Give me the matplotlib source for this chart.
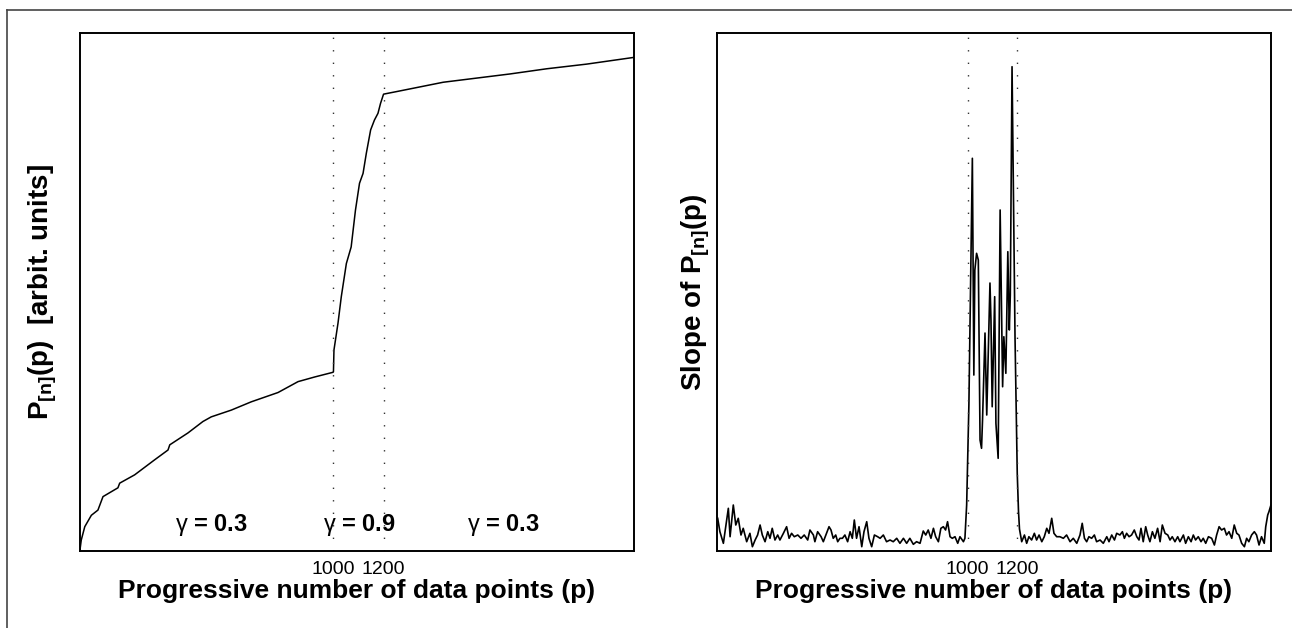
import matplotlib
matplotlib.use("Agg")
import matplotlib.pyplot as plt
from matplotlib.lines import Line2D

plt.rcParams['font.family'] = ['Liberation Sans', 'DejaVu Sans']
plt.rcParams['mathtext.fontset'] = 'custom'
plt.rcParams['mathtext.rm'] = 'Liberation Sans'
plt.rcParams['mathtext.bf'] = 'Liberation Sans:bold'
plt.rcParams['mathtext.default'] = 'bf'

# Left panel: cumulative P_[n](p), arbitrary units (0..100)
p_cum = [0, 5, 19, 45, 71, 91, 150, 157, 216, 295, 348, 355, 427, 486, 519, 598, 677,
         783, 862, 928, 1000, 1002, 1004, 1020, 1033, 1053, 1072, 1089, 1105, 1119, 1132,
         1149, 1164, 1178, 1188, 1200, 1252, 1436, 1700, 1845, 2003, 2190]
P_cum = [0.2, 2.1, 4.7, 6.9, 7.9, 10.5, 12.2, 13.1, 14.7, 17.6, 19.5, 20.5, 22.8, 25.0, 25.9,
         27.2, 28.8, 30.6, 32.7, 33.6, 34.5, 34.6, 38.8, 44.0, 49.1, 55.5, 58.7, 65.8, 71.0,
         72.9, 76.8, 81.3, 83.2, 84.5, 86.4, 88.2, 88.7, 90.5, 92.1, 93.1, 94.0, 95.3]

# Right panel: slope of P_[n](p), arbitrary units
p_slope = [-8, 1, 15, 35, 42, 55, 65, 75, 86, 95, 109, 122, 132, 143, 153, 163, 172, 183,
           194, 203, 212, 223, 234, 243, 257, 270, 280, 290, 301, 315, 328, 341, 355, 364,
           378, 384, 395, 409, 418, 431, 441, 449, 458, 468, 476, 485, 495, 505, 516, 526,
           535, 543, 552, 562, 573, 582, 593, 602, 613, 624, 637, 647, 660, 673, 687, 700,
           714, 727, 741, 754, 767, 781, 794, 808, 821, 831, 841, 852, 862, 871, 882, 892,
           902, 911, 919, 929, 938, 949, 960, 969, 983, 989,
           996, 1005, 1019, 1025, 1029, 1036, 1043, 1050, 1056, 1060, 1070, 1077, 1090, 1094,
           1099, 1109, 1114, 1123, 1131, 1141, 1146, 1154, 1162, 1168, 1172, 1179, 1191, 1200,
           1205, 1209, 1218, 1229, 1238, 1247, 1258, 1269, 1278, 1288, 1299, 1309, 1319, 1328,
           1339, 1348, 1359, 1372, 1386, 1399, 1413, 1426, 1440, 1453, 1462, 1471, 1480, 1489,
           1500, 1511, 1520, 1534, 1547, 1561, 1570, 1581, 1592, 1601, 1614, 1624, 1632, 1641,
           1651, 1661, 1672, 1682, 1691, 1699, 1708, 1718, 1726, 1735, 1745, 1755, 1766, 1776,
           1785, 1796, 1807, 1816, 1825, 1836, 1847, 1856, 1870, 1879, 1890, 1901, 1910, 1919,
           1930, 1941, 1950, 1960, 1971, 1984, 1995, 2004, 2014, 2024, 2035, 2044, 2054, 2065,
           2075, 2085, 2094, 2105, 2116, 2125, 2134, 2145, 2156, 2165, 2175, 2185, 2196, 2202,
           2210, 2215, 2223]
slope = [32.7, 19.3, 7.7, 42.7, 14.3, 46, 26, 32.7, 16, 22.7, 9.3, 17.7, 4.3, 11, 16, 26, 16,
         9.3, 19.3, 12.7, 22.7, 11, 16, 11, 17.7, 24.3, 12.7, 17.7, 14.3, 16, 12.7, 16, 11, 21,
         16, 9.3, 19.3, 14.3, 9.3, 17.7, 24.3, 21, 12.7, 16, 9.3, 12.7, 12.7, 16, 9.3, 19.3,
         12.7, 31, 12.7, 24.3, 4.3, 19.3, 29.3, 12.7, 4.3, 16, 14.3, 12.7, 16, 9.3, 11, 9.3,
         12.7, 7.7, 12.7, 7.7, 12.7, 6.7, 9.3, 7.7, 20, 16, 21, 12.7, 22.7, 14.3, 9.3, 22.7,
         24.3, 21, 29.3, 14.3, 12.7, 14.3, 7.7, 14.3, 9.3, 12.7,
         46, 146, 392.7, 176, 281, 297.7, 291, 111, 102.7, 131, 218, 136, 268, 231,
         144.3, 254.3, 127.7, 92.7, 341, 164.3, 214.3, 177.7, 299.3, 221, 256, 484.3, 214.3, 77.7,
         40, 22, 9.3, 16, 7.7, 14.3, 11, 17.7, 11, 16, 9.3, 14.3, 22.7, 17.7,
         32.7, 17.7, 14.3, 14.3, 12.7, 16, 9.3, 12.7, 7.7, 16, 27.7, 12.7, 9.3, 14.3,
         12.7, 16, 9.3, 11, 7.7, 14.3, 9.3, 16, 11, 17.7, 16, 19.3, 12.7, 17.7,
         14.3, 16, 21, 14.3, 11, 22.7, 9.3, 24.3, 16, 9.3, 19.3, 12.7, 22.7, 9.3,
         26, 17.7, 16, 11, 14.3, 9.3, 14.3, 9.3, 16, 7.7, 14.3, 9.3, 16, 11,
         14.3, 9.3, 12.7, 7.7, 14.3, 12.7, 6, 16, 24.3, 21, 22.7, 16, 19.3, 12.7,
         26, 17.7, 16, 7.7, 4.3, 12.7, 9.3, 16, 19.3, 16, 6, 14.3, 7.7, 24.3,
         36, 39.3, 46]

regime_bounds = [1000, 1200]
gamma_labels = ['0.3', '0.9', '0.3']
gamma_x = [518, 1103, 1672]

fig = plt.figure(figsize=(12.92, 6.28), dpi=100)

# outer frame (only top and left edges are visible in the original)
fig.add_artist(Line2D([7 / 1292, 1.0], [1 - 10 / 628, 1 - 10 / 628], color='#444444', lw=1.2))
fig.add_artist(Line2D([7 / 1292, 7 / 1292], [0.0, 1 - 10 / 628], color='#444444', lw=1.2))

ax1 = fig.add_axes([0.0619, 0.1226, 0.4288, 0.8248])
ax2 = fig.add_axes([0.5549, 0.1226, 0.4288, 0.8248])

ax1.plot(p_cum, P_cum, color='black', lw=1.1)
ax1.set_xlim(0, 2190)
ax1.set_ylim(0, 100)

ax2.plot(p_slope, slope, color='black', lw=1.2)
ax2.set_xlim(-11, 2223)
ax2.set_ylim(0, 518)

for ax in (ax1, ax2):
    for b in regime_bounds:
        ax.axvline(b, color='#333333', lw=1.0, linestyle=(0, (1, 8)))
    ax.set_xticks(regime_bounds)
    ax.set_xticklabels([str(b) for b in regime_bounds])
    ax.set_yticks([])
    ax.tick_params(axis='x', length=0, pad=7, labelsize=14)
    for s in ax.spines.values():
        s.set_linewidth(1.4)
    ax.set_xlabel('Progressive number of data points (p)', fontsize=19,
                  fontweight='bold', labelpad=1)

ax1.set_ylabel(r'P$_{[n]}$(p)  [arbit. units]', fontsize=20, fontweight='bold')
ax1.yaxis.set_label_coords(-0.038, 0.5)
ax2.set_ylabel(r'Slope of P$_{[n]}$(p)', fontsize=20, fontweight='bold')
ax2.yaxis.set_label_coords(-0.008, 0.5)

for gx, g in zip(gamma_x, gamma_labels):
    ax1.text(gx, 5.0, r'$\mathrm{\gamma}$ = ' + g, ha='center', va='center',
             fontsize=17, fontweight='bold')

fig.savefig('out.png', dpi=100)
